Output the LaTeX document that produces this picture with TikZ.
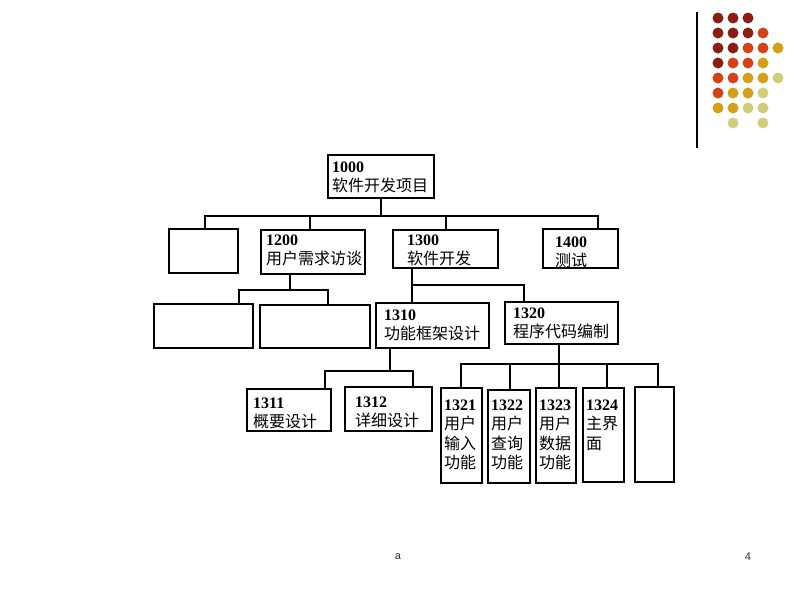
\documentclass[tikz,border=0pt]{standalone}
\usepackage{fontspec}
\setmainfont{Liberation Serif}
\newfontfamily\cjkfam{Noto Sans CJK SC}
\newcommand\cjk{\cjkfam\fontsize{16}{19.5}\selectfont}
\newfontfamily\footfont{Liberation Sans}
\usetikzlibrary{fit}
\definecolor{dotA}{RGB}{138,30,20}
\definecolor{dotB}{RGB}{214,66,24}
\definecolor{dotC}{RGB}{212,160,26}
\definecolor{dotD}{RGB}{208,204,122}
\tikzset{
  box/.style={draw, line width=1.3pt, inner sep=0pt},
  lbl/.style={anchor=north west, inner sep=0pt, align=left, font=\fontsize{16}{19.5}\selectfont},
  conn/.style={line width=1.3pt},
  dot/.style={circle, inner sep=0pt, minimum size=11pt},
  foot/.style={font=\footfont\fontsize{11}{13}\selectfont, text=black!80}
}
\begin{document}
\begin{tikzpicture}[x=1pt,y=-1pt]
\useasboundingbox (0,0) rectangle (800,600);
% decoration
\draw[line width=1.2pt] (697,12) -- (697,148);
\foreach \c/\i/\j in {dotA/0/0,dotA/1/0,dotA/2/0,
  dotA/0/1,dotA/1/1,dotA/2/1,dotB/3/1,
  dotA/0/2,dotA/1/2,dotB/2/2,dotB/3/2,dotC/4/2,
  dotA/0/3,dotB/1/3,dotB/2/3,dotC/3/3,
  dotB/0/4,dotB/1/4,dotC/2/4,dotC/3/4,dotD/4/4,
  dotB/0/5,dotC/1/5,dotC/2/5,dotD/3/5,
  dotC/0/6,dotC/1/6,dotD/2/6,dotD/3/6,
  dotD/1/7,dotD/3/7}
  \node[dot, fill=\c] (d\i\j) at ({718+15*\i},{18+15*\j}) {};
% boxes
\node[box, fit={(328,155) (434,198)}] (b1000) {};
\node[box, fit={(169,229) (238,273)}] (bA) {};
\node[box, fit={(261,230) (365,274)}] (b1200) {};
\node[box, fit={(393,230) (498,268)}] (b1300) {};
\node[box, fit={(543,229) (618,268)}] (b1400) {};
\node[box, fit={(154,304) (253,348)}] (bB1) {};
\node[box, fit={(260,305) (370,348)}] (bB2) {};
\node[box, fit={(376,303) (489,348)}] (b1310) {};
\node[box, fit={(505,302) (618,344)}] (b1320) {};
\node[box, fit={(247,389) (331,431)}] (b1311) {};
\node[box, fit={(345,387) (432,431)}] (b1312) {};
\node[box, fit={(441,388) (482,483)}] (b1321) {};
\node[box, fit={(488,390) (530,483)}] (b1322) {};
\node[box, fit={(536,388) (576,483)}] (b1323) {};
\node[box, fit={(583,388) (624,482)}] (b1324) {};
\node[box, fit={(635,387) (674,482)}] (bC) {};
% labels
\node[lbl] (t1000) at (332,161.5) {\textbf{1000}\\\cjk 软件开发项目};
\node[lbl] (t1200) at (266,234.5) {\textbf{1200}\\\cjk 用户需求访谈};
\node[lbl] (t1300) at (407,234.5) {\textbf{1300}\\\cjk 软件开发};
\node[lbl] (t1400) at (555,236.5) {\textbf{1400}\\\cjk 测试};
\node[lbl] (t1310) at (384,309.5) {\textbf{1310}\\\cjk 功能框架设计};
\node[lbl] (t1320) at (513,307.5) {\textbf{1320}\\\cjk 程序代码编制};
\node[lbl] (t1311) at (253,397.5) {\textbf{1311}\\\cjk 概要设计};
\node[lbl] (t1312) at (355,396.5) {\textbf{1312}\\\cjk 详细设计};
\node[lbl] (t1321) at (444,399.5) {\textbf{1321}\\\cjk 用户\\\cjk 输入\\\cjk 功能};
\node[lbl] (t1322) at (491,399.5) {\textbf{1322}\\\cjk 用户\\\cjk 查询\\\cjk 功能};
\node[lbl] (t1323) at (539,399.5) {\textbf{1323}\\\cjk 用户\\\cjk 数据\\\cjk 功能};
\node[lbl] (t1324) at (586,399.5) {\textbf{1324}\\\cjk 主界\\\cjk 面};
% junction coordinates
\coordinate (j1a) at (205,216);
\coordinate (j1b) at (310,216);
\coordinate (j1c) at (446,216);
\coordinate (j1d) at (598,216);
\coordinate (j2a) at (239,290);
\coordinate (j2b) at (328,290);
\coordinate (j3a) at (412,285);
\coordinate (j3b) at (524,285);
\coordinate (j4a) at (325,371);
\coordinate (j4b) at (413,371);
\coordinate (j5a) at (461,364);
\coordinate (j5b) at (510,364);
\coordinate (j5c) at (559,364);
\coordinate (j5d) at (607,364);
\coordinate (j5e) at (658,364);
% level 1
\draw[conn] (b1000.south) -- (b1000.south |- j1a);
\draw[conn] (bA.north -| j1a) -- (j1a) -- (j1d) -- (b1400.north -| j1d);
\draw[conn] (j1b) -- (b1200.north -| j1b);
\draw[conn] (j1c) -- (b1300.north -| j1c);
% under 1200
\draw[conn] (b1200.south -| 290,0) -- (290,290);
\draw[conn] (bB1.north -| j2a) -- (j2a) -- (j2b) -- (bB2.north -| j2b);
% under 1300
\draw[conn] (b1300.south -| j3a) -- (b1310.north -| j3a);
\draw[conn] (j3a) -- (j3b) -- (b1320.north -| j3b);
% under 1310
\draw[conn] (b1310.south -| 390,0) -- (390,371);
\draw[conn] (b1311.north -| j4a) -- (j4a) -- (j4b) -- (b1312.north -| j4b);
% under 1320
\draw[conn] (b1320.south -| j5c) -- (j5c);
\draw[conn] (b1321.north -| j5a) -- (j5a) -- (j5e) -- (bC.north -| j5e);
\draw[conn] (j5b) -- (b1322.north -| j5b);
\draw[conn] (j5c) -- (b1323.north -| j5c);
\draw[conn] (j5d) -- (b1324.north -| j5d);
% footer
\node[foot] (fa) at (398,557) {a};
\node[foot] (fn) at (748,557) {4};
\end{tikzpicture}
\end{document}
